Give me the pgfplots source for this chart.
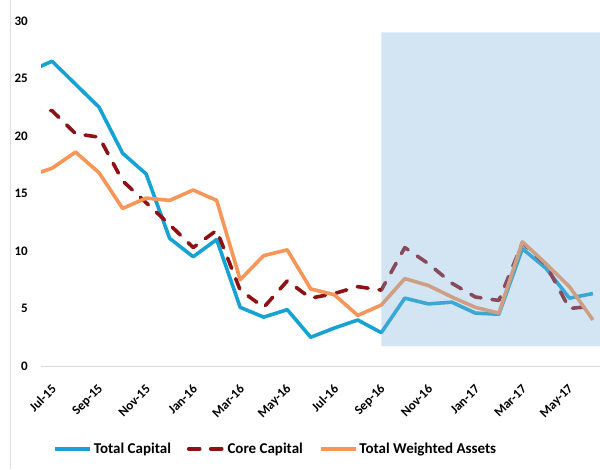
\documentclass[border=0pt]{standalone}
\usepackage{pgfplots}
\pgfplotsset{compat=1.18}
\usepackage{fontspec}
\setmainfont{Carlito}
\definecolor{tcap}{RGB}{22,163,212}
\definecolor{ccap}{RGB}{140,18,20}
\definecolor{twa}{RGB}{247,150,88}
\definecolor{shade}{RGB}{128,180,222}
\begin{document}
\begin{tikzpicture}[x=1pt,y=1pt]
\begin{axis}[
  at={(41pt,103pt)}, anchor=south west,
  scale only axis, width=559pt, height=345pt,
  xmin=-0.47, xmax=23.3, ymin=0, ymax=30,
  clip=true,
  axis y line*=left,
  y axis line style={draw=none},
  axis x line*=bottom,
  x axis line style={draw=black!15, line width=0.8pt, -},
  xtick={0,2,...,22}, major tick length=0pt,
  xticklabels={Jul-15,Sep-15,Nov-15,Jan-16,Mar-16,May-16,Jul-16,Sep-16,Nov-16,Jan-17,Mar-17,May-17},
  xticklabel style={font=\bfseries\fontsize{13}{13}\selectfont, inner sep=0pt, anchor=east, xshift=2pt, yshift=-21pt, rotate=45},
  ytick={0,5,...,30},
  yticklabel style={font=\bfseries\fontsize{13}{13}\selectfont, inner sep=0pt, anchor=east, xshift=-13pt},
  /pgf/number format/assume math mode=true,
  legend columns=3,
  legend style={at={(0.42,-0.24)}, anchor=center, draw=none, fill=none,
    font=\bfseries\fontsize{15}{15}\selectfont, inner sep=0pt,
    /tikz/every even column/.append style={column sep=14pt}},
  legend cell align=left,
  legend image code/.code={\draw[#1] (0pt,0pt) -- (35pt,0pt);},
]
\addplot[tcap, line width=3.6pt, line join=round] coordinates {
(-1,25.6) (0,26.5) (1,24.5) (2,22.5) (3,18.5) (4,16.7) (5,11.1) (6,9.5) (7,11.0)
(8,5.1) (9,4.25) (10,4.9) (11,2.5) (12,3.3) (13,4.0) (14,2.9) (15,5.9) (16,5.4)
(17,5.55) (18,4.6) (19,4.5) (20,10.2) (21,8.5) (22,5.9) (23,6.3)};
\addlegendentry{Total Capital}
\addplot[ccap, line width=3.6pt, line join=round, line cap=round, dash pattern=on 11pt off 11pt] coordinates {
(-1,22.3) (0,22.2) (1,20.2) (2,19.9) (3,16.1) (4,14.2) (5,12.3) (6,10.3) (7,11.8)
(8,6.6) (9,5.1) (10,7.4) (11,5.9) (12,6.3) (13,6.9) (14,6.6) (15,10.3) (16,8.9)
(17,7.2) (18,6.0) (19,5.7) (20,10.7) (21,8.8) (22,5.0) (23,5.2)};
\addlegendentry{Core Capital}
\addplot[twa, line width=3.6pt, line join=round] coordinates {
(-1,16.5) (0,17.2) (1,18.6) (2,16.8) (3,13.7) (4,14.6) (5,14.4) (6,15.3) (7,14.4)
(8,7.5) (9,9.6) (10,10.1) (11,6.7) (12,6.2) (13,4.4) (14,5.3) (15,7.6) (16,7.0)
(17,6.0) (18,5.1) (19,4.6) (20,10.8) (21,8.9) (22,6.9) (23,4.0)};
\addlegendentry{Total Weighted Assets}
\addplot[draw=none, fill=shade, fill opacity=0.35, forget plot] coordinates {
(14,1.7) (23.5,1.7) (23.5,29) (14,29) (14,1.7)};
\end{axis}
\draw[black!12, line width=0.8pt] (10.5pt,0pt) -- (10.5pt,469pt);
\pgfresetboundingbox
\path (0pt,0pt) rectangle (600pt,469pt);
\end{tikzpicture}
\end{document}
